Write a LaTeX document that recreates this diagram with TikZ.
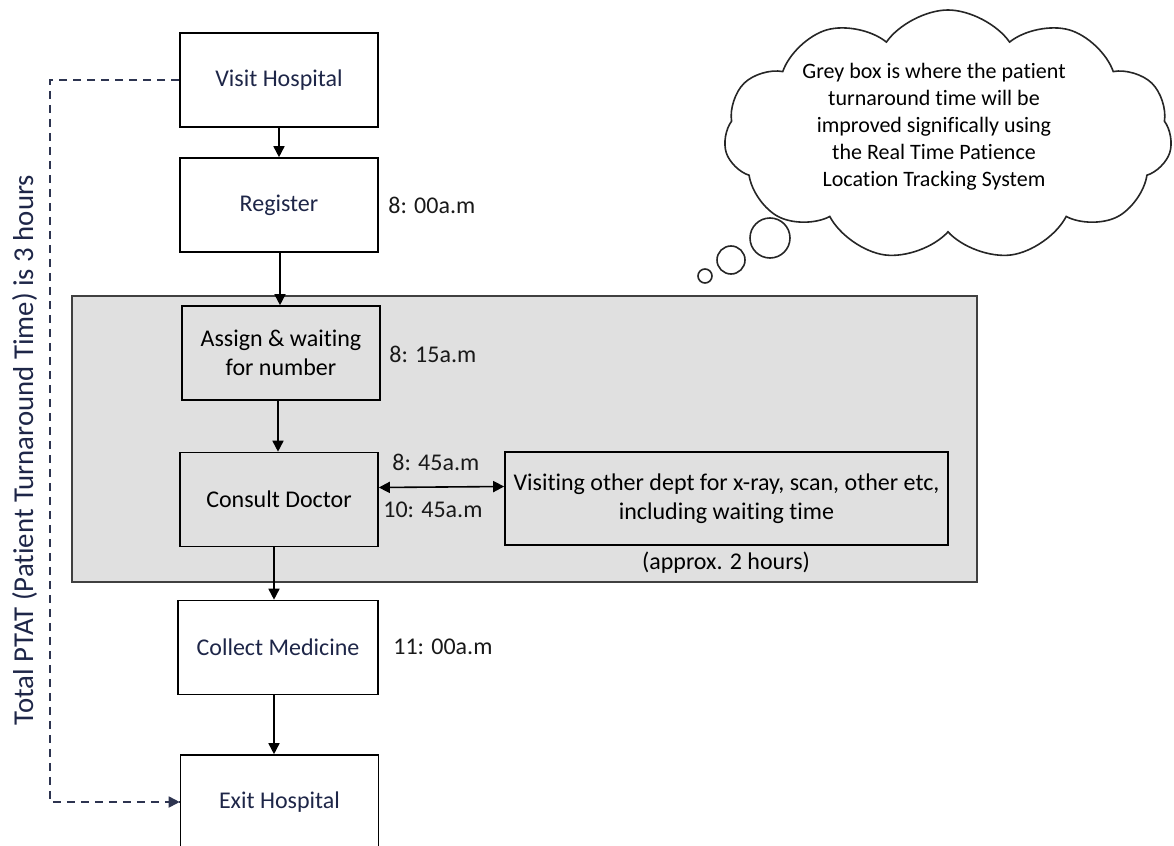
\documentclass[tikz,border=0pt]{standalone}
\usepackage{fontspec}
\setmainfont{Carlito}[Ligatures=NoCommon]
\usetikzlibrary{arrows.meta,shapes.symbols}
\definecolor{navytext}{RGB}{30,38,72}
\definecolor{greybg}{RGB}{224,224,224}
\definecolor{dashcol}{RGB}{45,52,80}
\tikzset{
  procbox/.style={draw=black, line width=0.8pt, minimum width=99pt, minimum height=47pt,
    inner sep=2pt, align=center, font=\fontsize{12}{14.4}\selectfont},
  navy/.style={text=navytext},
  timelbl/.style={anchor=west, inner sep=0pt, font=\fontsize{12}{14.4}\selectfont, text=black!90},
  arr/.style={line width=0.8pt, -{Triangle[length=5.5pt,width=5.5pt]}},
  dblarr/.style={line width=0.8pt, {Triangle[length=5.5pt,width=5.5pt]}-{Triangle[length=5.5pt,width=5.5pt]}},
  dashline/.style={draw=dashcol, line width=0.9pt, dash pattern=on 4pt off 3pt},
  bubble/.style={draw=black!85, line width=0.8pt, fill=white}
}
\begin{document}
\begin{tikzpicture}[x=0.5pt,y=-0.5pt]
\useasboundingbox (0,0) rectangle (1174,846);
% grey region
\draw[draw=black!75, line width=0.9pt, fill=greybg] (72,296) rectangle (977,582);

% process boxes
\node[procbox, navy] (visit) at (279,80) {Visit Hospital};
\node[procbox, navy] (register) at (279,205) {Register};
\node[procbox, fill=greybg] (assign) at (281,353) {Assign \& waiting\\for number};
\node[procbox, fill=greybg] (consult) at (279,499.5) {Consult Doctor};
\node[procbox, fill=greybg, minimum width=221.5pt, minimum height=46.5pt] (visiting) at (726.5,498.5)
  {Visiting other dept for x-ray, scan, other etc,\\including waiting time};
\node[procbox, navy, minimum width=100pt] (collect) at (278,647.5) {Collect Medicine};
\node[procbox, navy] (exit) at (279.5,802) {Exit Hospital};

% time labels
\node[timelbl] (t1) at (388,205) {8: 00a.m};
\node[timelbl] (t2) at (389,354) {8: 15a.m};
\node[timelbl] (t3) at (392,462) {8: 45a.m};
\node[timelbl] (t4) at (383,510) {10: 45a.m};
\node[timelbl] (t5) at (393,647) {11: 00a.m};
\node[font=\fontsize{12}{14.4}\selectfont, inner sep=0pt] (approx) at (726,563) {(approx. 2 hours)};

% arrows
\draw[arr] (visit.south) -- (register.north);
\draw[arr] ([xshift=0.5pt]register.south) -- ([xshift=0.5pt]register.south |- assign.north);
\draw[arr] ([xshift=-0.5pt]consult.north |- assign.south) -- ([xshift=-0.5pt]consult.north);
\draw[arr] ([xshift=-2.5pt]consult.south) -- ([xshift=-2.5pt]consult.south |- collect.north);
\draw[arr] ([xshift=-2pt]collect.south) -- ([xshift=-2pt]collect.south |- exit.north);
\draw[dblarr] ([yshift=6pt]consult.east) -- ([yshift=6pt]visiting.west);

% total PTAT dashed connector
\coordinate (c1) at (50,80);
\draw[dashline] (visit.west) -- (c1) |- (exit.west);
\draw[draw=dashcol, line width=0.9pt, -{Triangle[length=5.5pt,width=5.5pt]}] ([xshift=-4pt]exit.west) -- (exit.west);
\node[rotate=90, anchor=base, inner sep=0pt, font=\fontsize{14.4}{16}\selectfont, text=navytext] (ptat) at (33,450)
  {Total PTAT (Patient Turnaround Time) is 3 hours};

% thought cloud
\node[cloud, cloud puffs=11, cloud puff arc=110, cloud ignores aspect, bubble,
  minimum width=224pt, minimum height=125pt] (cloud) at (948,135) {};
\node[align=center, inner sep=0pt, font=\fontsize{11}{13.5}\selectfont] (cloudtext) at (934,127)
  {Grey box is where the patient\\turnaround time will be\\improved significally using\\the Real Time Patience\\Location Tracking System};
\node[circle, bubble, minimum size=20pt, inner sep=0pt] (b1) at (770,238) {};
\node[circle, bubble, minimum size=14pt, inner sep=0pt] (b2) at (731,260) {};
\node[circle, bubble, minimum size=7pt, inner sep=0pt] (b3) at (705,276) {};
\end{tikzpicture}
\end{document}
